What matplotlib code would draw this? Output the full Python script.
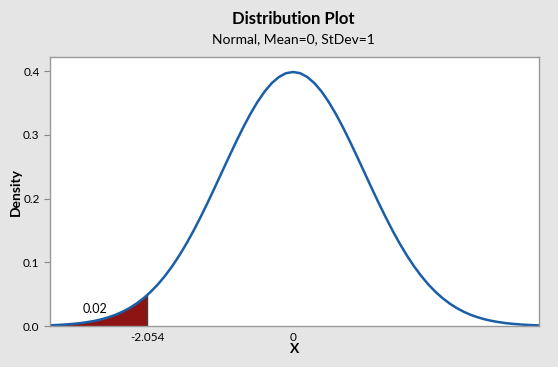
import numpy as np
import matplotlib
matplotlib.use("Agg")
import matplotlib.pyplot as plt

plt.rcParams['font.family'] = ['Lato', 'DejaVu Sans']

# standard normal density read at 0.1 steps (right half, mirrored for the left)
x_half = [0.0, 0.1, 0.2, 0.3, 0.4, 0.5, 0.6, 0.7, 0.8, 0.9, 1.0, 1.1, 1.2,
          1.3, 1.4, 1.5, 1.6, 1.7, 1.8, 1.9, 2.0, 2.1, 2.2, 2.3, 2.4, 2.5,
          2.6, 2.7, 2.8, 2.9, 3.0, 3.1, 3.2, 3.3, 3.4, 3.5]
dens_half = [0.3989, 0.3970, 0.3910, 0.3814, 0.3683, 0.3521, 0.3332, 0.3123,
             0.2897, 0.2661, 0.2420, 0.2179, 0.1942, 0.1714, 0.1497, 0.1295,
             0.1109, 0.0940, 0.0790, 0.0656, 0.0540, 0.0440, 0.0355, 0.0283,
             0.0224, 0.0175, 0.0136, 0.0104, 0.0079, 0.0060, 0.0044, 0.0033,
             0.0024, 0.0017, 0.0012, 0.0009]
cutoff = -2.054
cutoff_dens = 0.0484
tail_area = "0.02"

x = np.array([-v for v in x_half[:0:-1]] + x_half)
dens = np.array(dens_half[:0:-1] + dens_half)

fig = plt.figure(figsize=(5.58, 3.67), dpi=100, facecolor='#e5e5e5')
ax = fig.add_axes([0.0896, 0.1117, 0.8764, 0.7322])
ax.set_facecolor('white')

# shaded lower tail
mask = x < cutoff
xs = np.append(x[mask], cutoff)
ys = np.append(dens[mask], cutoff_dens)
ax.fill_between(xs, 0, ys, color='#8e1414', lw=0)
ax.plot([cutoff, cutoff], [0, cutoff_dens], color='#404040', lw=1)

ax.plot(x, dens, color='#1a5ea8', lw=1.8, solid_capstyle='butt')
ax.text(-2.78, 0.027, tail_area, fontsize=9, ha='center', va='center')

ax.set_xlim(-3.42, 3.46)
ax.set_ylim(0, 0.422)
ax.set_xticks([cutoff, 0])
ax.set_xticklabels(['-2.054', '0'])
ax.set_yticks([0, 0.1, 0.2, 0.3, 0.4])
ax.set_yticklabels(['0.0', '0.1', '0.2', '0.3', '0.4'])
ax.tick_params(axis='both', labelsize=8.5, color='#888888', length=4, width=0.8)
ax.tick_params(axis='x', length=0, pad=4)
for s in ax.spines.values():
    s.set_color('#999999')
    s.set_linewidth(1)

ax.set_ylabel('Density', fontsize=10, fontweight='bold', labelpad=1)
ax.set_xlabel('X', fontsize=10, fontweight='bold', labelpad=0)

fig.text(0.525, 0.948, 'Distribution Plot', fontsize=12, fontweight='bold',
         ha='center', va='center')
fig.text(0.525, 0.893, 'Normal, Mean=0, StDev=1', fontsize=10,
         ha='center', va='center')

fig.savefig('out.png', dpi=100, facecolor=fig.get_facecolor())
